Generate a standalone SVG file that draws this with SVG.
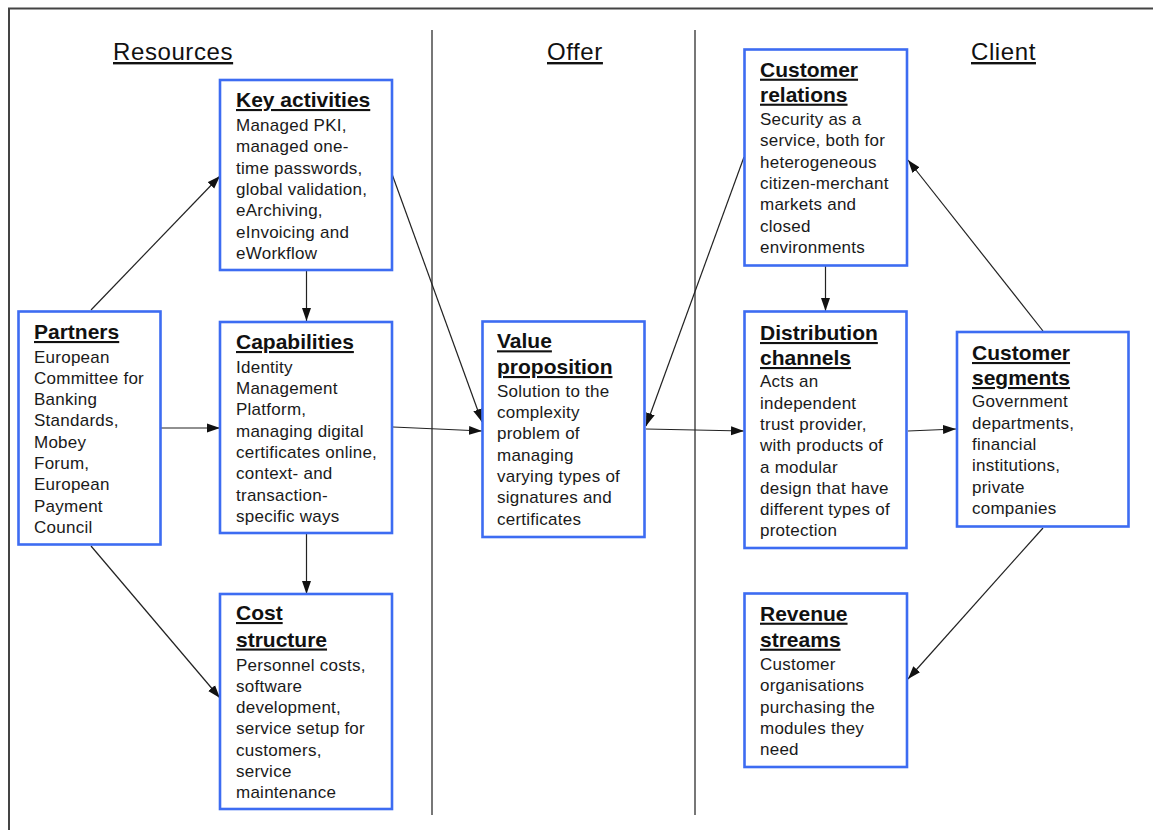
<svg xmlns="http://www.w3.org/2000/svg" width="1153" height="830" viewBox="0 0 1153 830">
  <style>
    .frame { stroke: #444; stroke-width: 2; fill: none; }
    .divider { stroke: #555; stroke-width: 1.6; fill: none; }
    .head { font-family: "Liberation Sans", Arial, sans-serif; font-size: 24px; letter-spacing: 0.6px; fill: #111; text-decoration: underline; }
    .box { fill: #fff; stroke: #3d6cf2; stroke-width: 2.6; }
    .title { font-family: "Liberation Sans", Arial, sans-serif; font-size: 21px; font-weight: bold; fill: #111; text-decoration: underline; }
    .body { font-family: "Liberation Sans", Arial, sans-serif; font-size: 17px; letter-spacing: 0.25px; fill: #1a1a1a; }
    .conn { stroke: #222; stroke-width: 1.2; fill: none; marker-end: url(#arrow); }
  </style>
  <defs>
    <marker id="arrow" markerUnits="userSpaceOnUse" markerWidth="14" markerHeight="10" refX="13" refY="5" orient="auto">
      <path d="M0,0.5 L13,5 L0,9.5 Z" fill="#111"/>
    </marker>
  </defs>

  <rect x="0" y="0" width="1153" height="830" fill="#fff"/>

  <!-- outer frame and column dividers -->
  <g id="frame">
    <path class="frame" d="M9,830 V8.5 H1153"/>
    <line class="divider" x1="432" y1="30" x2="432" y2="815"/>
    <line class="divider" x1="695" y1="30" x2="695" y2="815"/>
  </g>

  <!-- column headings -->
  <g id="headings">
    <text class="head" x="113" y="60">Resources</text>
    <text class="head" x="547" y="60">Offer</text>
    <text class="head" x="971" y="60">Client</text>
  </g>

  <!-- connectors -->
  <g id="connectors">
    <line class="conn" x1="91" y1="310" x2="220" y2="176"/>
    <line class="conn" x1="161" y1="428" x2="220" y2="428"/>
    <line class="conn" x1="91" y1="546" x2="220" y2="698"/>
    <line class="conn" x1="306.5" y1="271" x2="306.5" y2="321"/>
    <line class="conn" x1="306.5" y1="534" x2="306.5" y2="594"/>
    <line class="conn" x1="392" y1="174" x2="482" y2="422"/>
    <line class="conn" x1="393" y1="427" x2="482" y2="431"/>
    <line class="conn" x1="744" y1="157" x2="646" y2="426"/>
    <line class="conn" x1="646" y1="429" x2="744" y2="431"/>
    <line class="conn" x1="825.5" y1="266" x2="825.5" y2="311"/>
    <line class="conn" x1="908" y1="431" x2="956" y2="429"/>
    <line class="conn" x1="1043" y1="331" x2="908" y2="160"/>
    <line class="conn" x1="1043" y1="528" x2="908" y2="679"/>
  </g>

  <g id="key-activities">
    <rect class="box" x="220" y="80" width="172" height="190"/>
    <text class="title" x="236" y="107">Key activities</text>
    <text class="body" x="236">
      <tspan x="236" y="131">Managed PKI,</tspan>
      <tspan x="236" y="152.3">managed one-</tspan>
      <tspan x="236" y="173.6">time passwords,</tspan>
      <tspan x="236" y="194.9">global validation,</tspan>
      <tspan x="236" y="216.2">eArchiving,</tspan>
      <tspan x="236" y="237.5">eInvoicing and</tspan>
      <tspan x="236" y="258.8">eWorkflow</tspan>
    </text>
  </g>

  <g id="partners">
    <rect class="box" x="18.5" y="311.5" width="142" height="233"/>
    <text class="title" x="34" y="339">Partners</text>
    <text class="body">
      <tspan x="34" y="362.5">European</tspan>
      <tspan x="34" y="383.8">Committee for</tspan>
      <tspan x="34" y="405.1">Banking</tspan>
      <tspan x="34" y="426.4">Standards,</tspan>
      <tspan x="34" y="447.7">Mobey</tspan>
      <tspan x="34" y="469">Forum,</tspan>
      <tspan x="34" y="490.3">European</tspan>
      <tspan x="34" y="511.6">Payment</tspan>
      <tspan x="34" y="532.9">Council</tspan>
    </text>
  </g>

  <g id="capabilities">
    <rect class="box" x="220" y="322" width="172" height="211"/>
    <text class="title" x="236" y="349">Capabilities</text>
    <text class="body">
      <tspan x="236" y="372.7">Identity</tspan>
      <tspan x="236" y="394">Management</tspan>
      <tspan x="236" y="415.3">Platform,</tspan>
      <tspan x="236" y="436.6">managing digital</tspan>
      <tspan x="236" y="457.9">certificates online,</tspan>
      <tspan x="236" y="479.2">context- and</tspan>
      <tspan x="236" y="500.5">transaction-</tspan>
      <tspan x="236" y="521.8">specific ways</tspan>
    </text>
  </g>

  <g id="cost-structure">
    <rect class="box" x="220" y="594" width="172" height="215"/>
    <text class="title" x="236" y="620">Cost</text>
    <text class="title" x="236" y="646.5">structure</text>
    <text class="body">
      <tspan x="236" y="670.5">Personnel costs,</tspan>
      <tspan x="236" y="691.8">software</tspan>
      <tspan x="236" y="713.1">development,</tspan>
      <tspan x="236" y="734.4">service setup for</tspan>
      <tspan x="236" y="755.7">customers,</tspan>
      <tspan x="236" y="777">service</tspan>
      <tspan x="236" y="798.3">maintenance</tspan>
    </text>
  </g>

  <g id="value-proposition">
    <rect class="box" x="482.5" y="321.5" width="162" height="215.5"/>
    <text class="title" x="497" y="348.3">Value</text>
    <text class="title" x="497" y="374">proposition</text>
    <text class="body">
      <tspan x="497" y="396.7">Solution to the</tspan>
      <tspan x="497" y="418">complexity</tspan>
      <tspan x="497" y="439.3">problem of</tspan>
      <tspan x="497" y="460.6">managing</tspan>
      <tspan x="497" y="481.9">varying types of</tspan>
      <tspan x="497" y="503.2">signatures and</tspan>
      <tspan x="497" y="524.5">certificates</tspan>
    </text>
  </g>

  <g id="customer-relations">
    <rect class="box" x="744.5" y="49.5" width="162.5" height="216"/>
    <text class="title" x="760" y="76.7">Customer</text>
    <text class="title" x="760" y="101.7">relations</text>
    <text class="body">
      <tspan x="760" y="125">Security as a</tspan>
      <tspan x="760" y="146.3">service, both for</tspan>
      <tspan x="760" y="167.6">heterogeneous</tspan>
      <tspan x="760" y="188.9">citizen-merchant</tspan>
      <tspan x="760" y="210.2">markets and</tspan>
      <tspan x="760" y="231.5">closed</tspan>
      <tspan x="760" y="252.8">environments</tspan>
    </text>
  </g>

  <g id="distribution-channels">
    <rect class="box" x="744.5" y="311.5" width="162" height="236.5"/>
    <text class="title" x="760" y="340">Distribution</text>
    <text class="title" x="760" y="365">channels</text>
    <text class="body">
      <tspan x="760" y="387.3">Acts an</tspan>
      <tspan x="760" y="408.6">independent</tspan>
      <tspan x="760" y="429.9">trust provider,</tspan>
      <tspan x="760" y="451.2">with products of</tspan>
      <tspan x="760" y="472.5">a modular</tspan>
      <tspan x="760" y="493.8">design that have</tspan>
      <tspan x="760" y="515.1">different types of</tspan>
      <tspan x="760" y="536.4">protection</tspan>
    </text>
  </g>

  <g id="customer-segments">
    <rect class="box" x="957" y="332" width="171.5" height="194.5"/>
    <text class="title" x="972" y="360">Customer</text>
    <text class="title" x="972" y="385">segments</text>
    <text class="body">
      <tspan x="972" y="407.3">Government</tspan>
      <tspan x="972" y="428.6">departments,</tspan>
      <tspan x="972" y="449.9">financial</tspan>
      <tspan x="972" y="471.2">institutions,</tspan>
      <tspan x="972" y="492.5">private</tspan>
      <tspan x="972" y="513.8">companies</tspan>
    </text>
  </g>

  <g id="revenue-streams">
    <rect class="box" x="744.5" y="593.5" width="162.5" height="173.5"/>
    <text class="title" x="760" y="620.7">Revenue</text>
    <text class="title" x="760" y="646.7">streams</text>
    <text class="body">
      <tspan x="760" y="670">Customer</tspan>
      <tspan x="760" y="691.3">organisations</tspan>
      <tspan x="760" y="712.6">purchasing the</tspan>
      <tspan x="760" y="733.9">modules they</tspan>
      <tspan x="760" y="755.2">need</tspan>
    </text>
  </g>
</svg>
